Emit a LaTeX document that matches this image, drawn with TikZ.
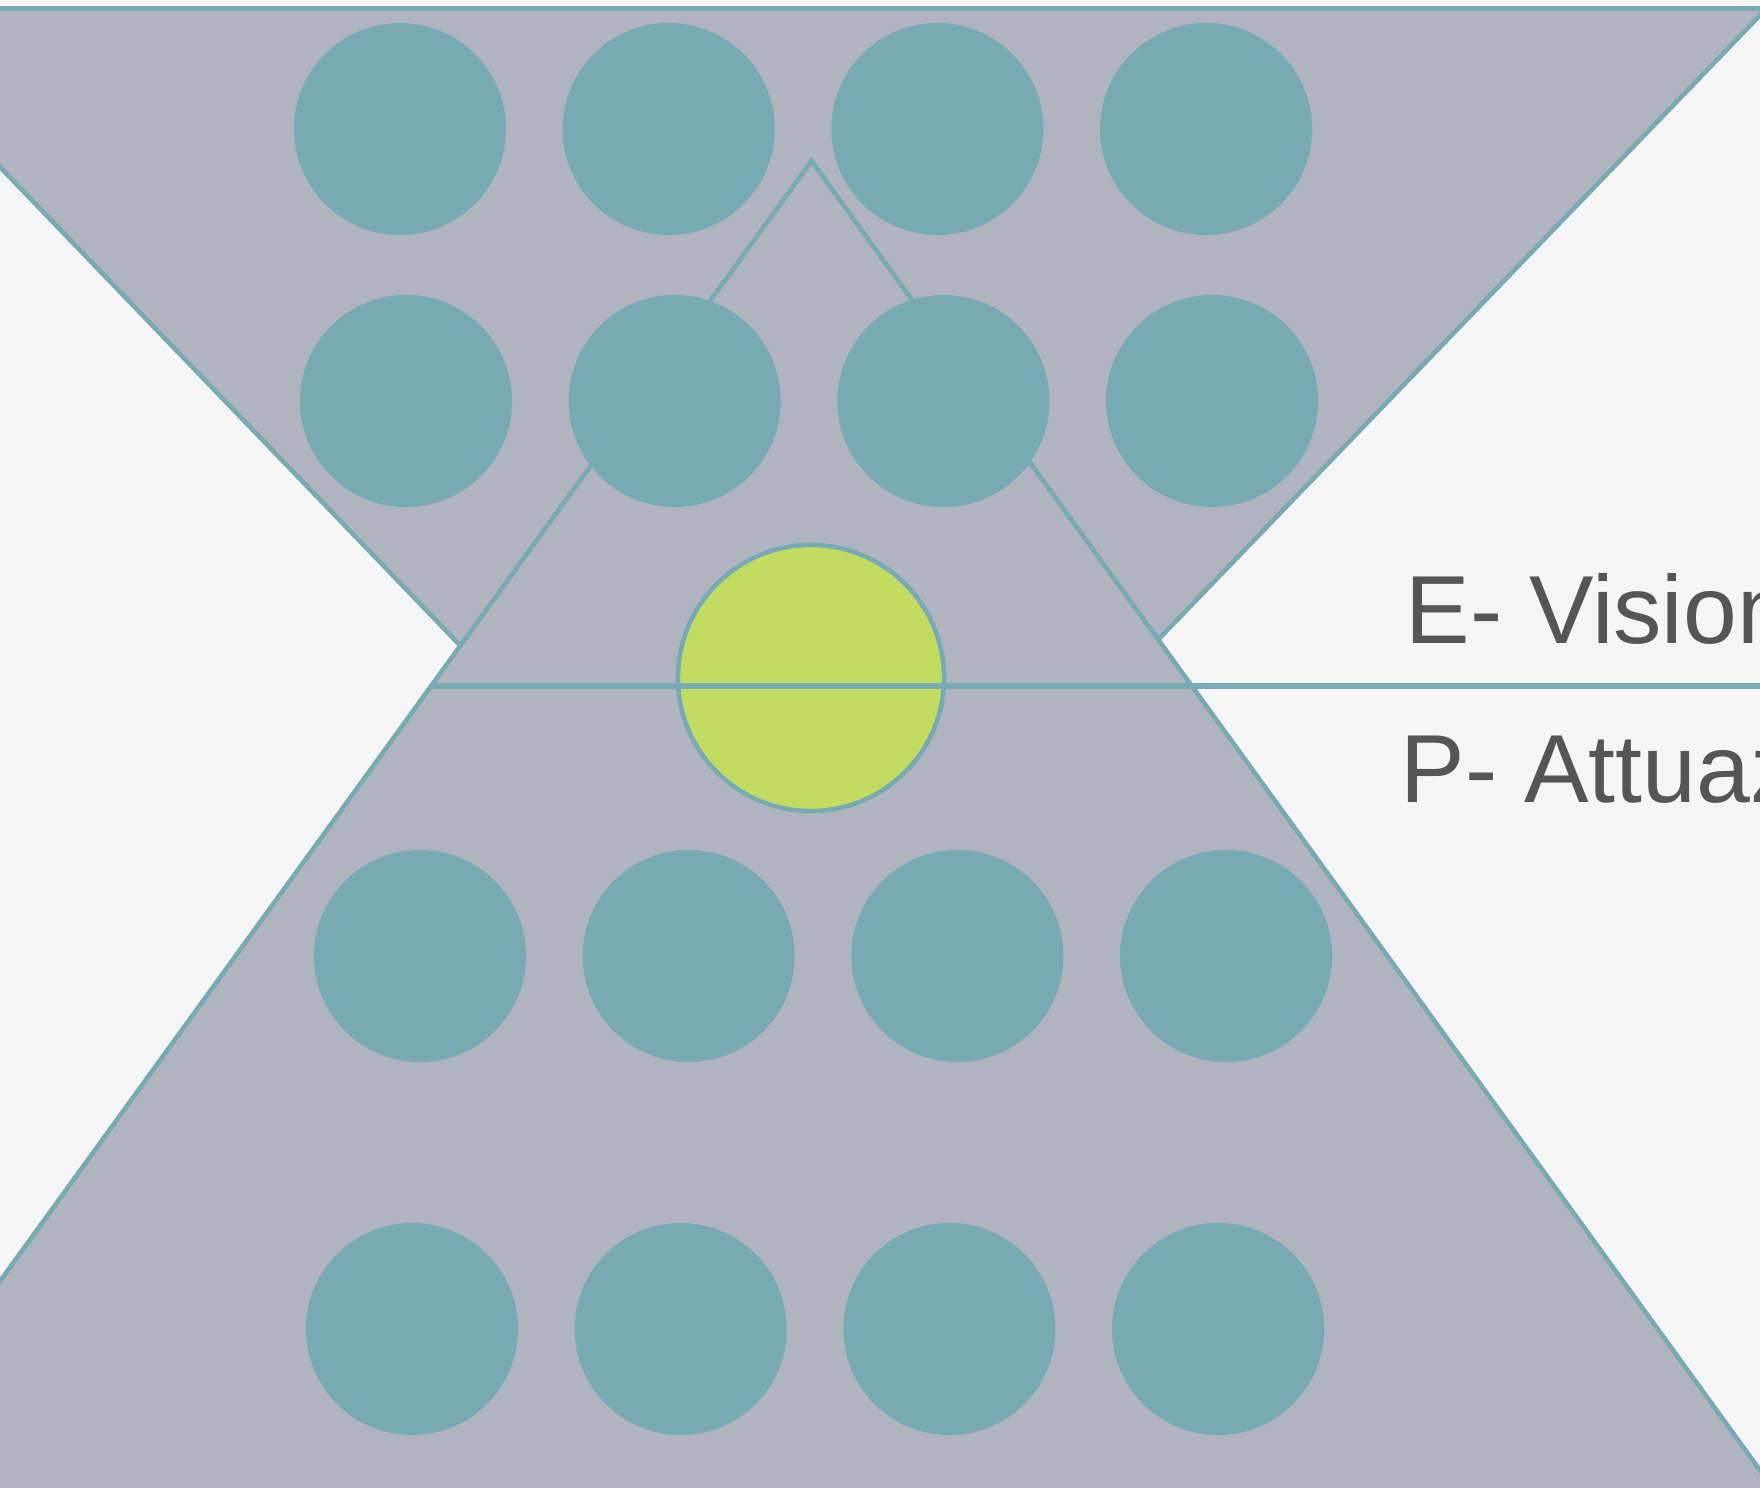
\documentclass[tikz,border=0pt]{standalone}
\usepackage{fontspec}
\setmainfont{Liberation Sans}
\definecolor{bgpage}{HTML}{F5F5F5}
\definecolor{slate}{HTML}{B0B4BE}
\definecolor{teal}{HTML}{78AAB4}
\definecolor{lime}{HTML}{C2DC62}
\definecolor{ink}{HTML}{555555}
\tikzset{
  frame/.style={draw=teal,line width=1.3pt,line join=miter},
  dot/.style={fill=teal},
  phase/.style={anchor=base west,inner sep=0pt,text=ink,font=\fontsize{27.5}{32}\selectfont}
}
\begin{document}
\begin{tikzpicture}[x=0.01cm,y=-0.01cm]
  \useasboundingbox (0,0) rectangle (1760,1488);
  \fill[bgpage] (0,0) rectangle (1760,1488);
  \clip (0,0) rectangle (1760,1488);
  % funnel: inverted triangle from the top edge
  \fill[slate] (-153,8) -- (1767,8) -- (806,1005) -- cycle;
  \draw[frame] (-153,8) -- (806,1005) -- (1767,8);
  \draw[teal,line width=1.5pt] (-10,8.5) -- (1770,8.5);
  % pyramid: upright triangle
  \coordinate (apex) at (811.5,161);
  \filldraw[slate,frame] (apex) -- (1854,1600) -- (-231,1600) -- cycle;
  % team dots
  \foreach \y/\x in {129/400,401/406,956/420,1329/412}
    \foreach \i in {0,...,3}
      \fill[dot] (\x+\i*268.7,\y) circle[radius=1.06cm];
  % leader
  \filldraw[fill=lime,draw=teal,line width=1.3pt] (811,678) circle[radius=1.33cm];
  % split line
  \coordinate (splitL) at (431,686);
  \coordinate (splitR) at (1770,686);
  \draw[teal,line width=1.5pt] (splitL) -- (splitR);
  \node[phase] (vision) at (1405,643) {E- Vision};
  \node[phase] (attua) at (1400,802) {P- Attuaz};
\end{tikzpicture}
\end{document}
